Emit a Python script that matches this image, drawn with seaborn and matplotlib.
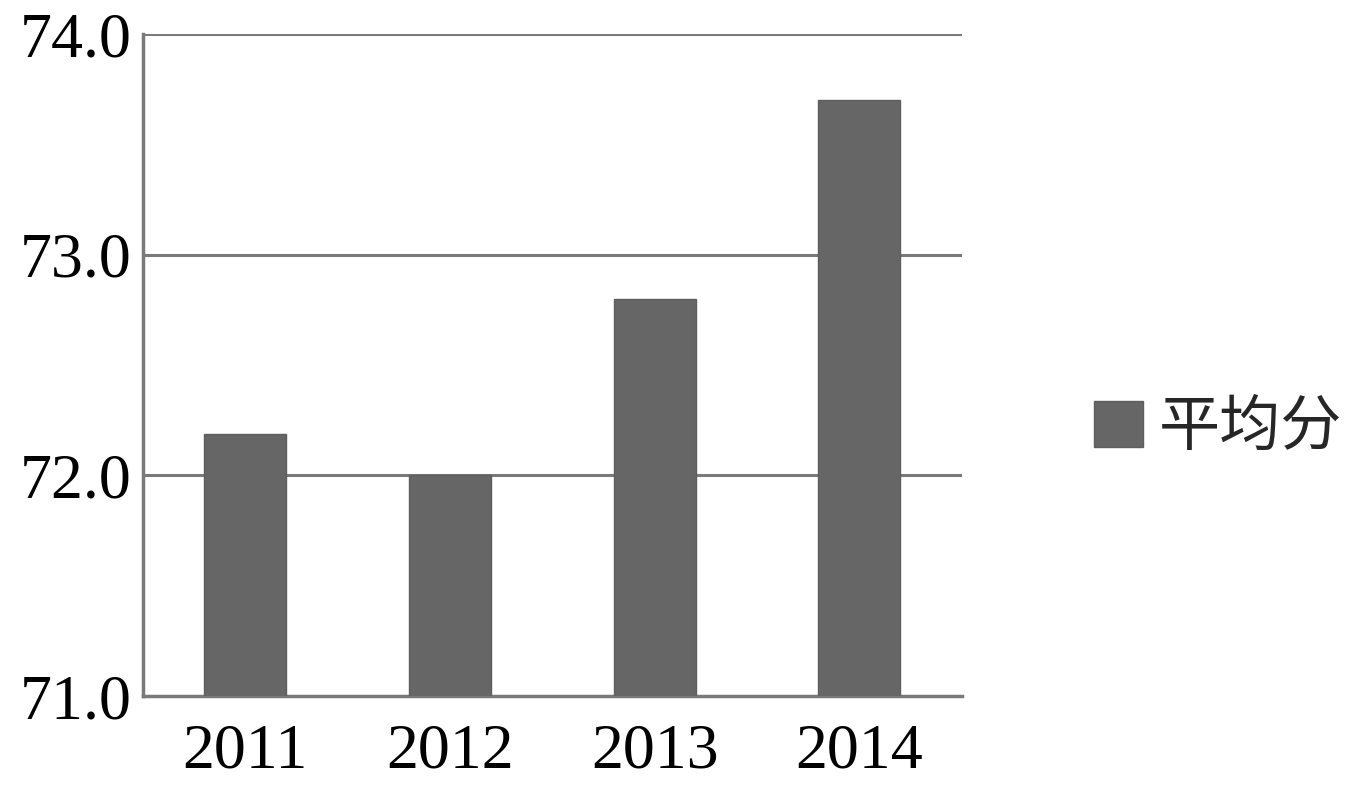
import matplotlib.pyplot as plt
import seaborn as sns

years = ["2011", "2012", "2013", "2014"]
avg_score = [72.19, 72.0, 72.8, 73.7]
yticks = [71.0, 72.0, 73.0, 74.0]

sns.set_theme(style="white")
plt.rcParams['font.family'] = ['Liberation Serif', 'Noto Sans CJK SC']

fig = plt.figure(figsize=(13.51, 7.92), dpi=100)
ax = fig.add_axes([0.1058, 0.121, 0.606, 0.836])

sns.barplot(x=years, y=avg_score, color="#666666", width=0.4,
            saturation=1, label="平均分", ax=ax, zorder=3,
            edgecolor="#5e5e5e", linewidth=1)

ax.set_ylim(71.0, 74.0)
ax.set_xlim(-0.5, 3.5)
ax.set_yticks(yticks)
ax.set_yticklabels([f"{v:.1f}" for v in yticks])
for y in yticks[1:]:
    ax.axhline(y, color="#7a7a7a", lw=2.2, zorder=1)

for side in ["top", "right"]:
    ax.spines[side].set_visible(False)
for side in ["left", "bottom"]:
    ax.spines[side].set_color("#7a7a7a")
    ax.spines[side].set_linewidth(2.5)

ax.tick_params(axis="both", length=0, labelsize=46, colors="black")
ax.tick_params(axis="y", pad=8)
ax.tick_params(axis="x", pad=20)
ax.set_xlabel("")
ax.set_ylabel("")

leg = ax.legend(loc="center left", bbox_to_anchor=(1.095, 0.405), frameon=False,
                handlelength=0.8, handleheight=0.8, handletextpad=0.25,
                prop={"family": "Noto Sans CJK SC", "size": 44})

fig.savefig("out.png", dpi=100)
